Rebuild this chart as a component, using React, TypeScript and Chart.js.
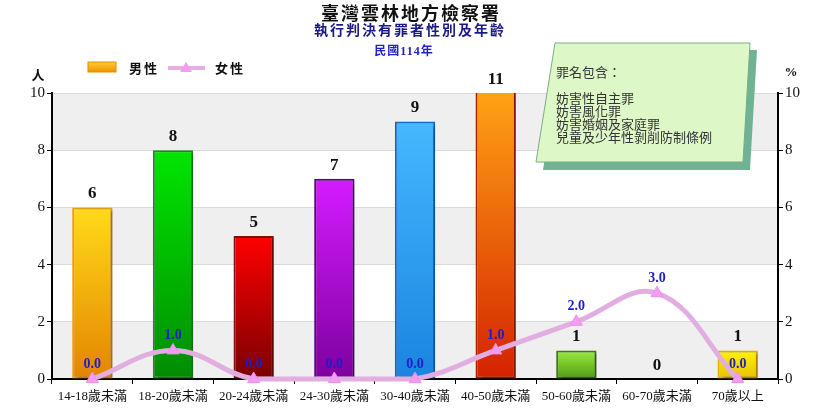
import { useEffect, useRef } from "react";
import { Chart, registerables } from "chart.js";

Chart.register(...registerables);

const categories = [
  "14-18歲未滿", "18-20歲未滿", "20-24歲未滿", "24-30歲未滿", "30-40歲未滿",
  "40-50歲未滿", "50-60歲未滿", "60-70歲未滿", "70歲以上",
];
const maleCounts = [6, 8, 5, 7, 9, 11, 1, 0, 1];
const femalePct = [0, 1, 0, 0, 0, 1, 2, 3, 0];
const yTicks = [0, 2, 4, 6, 8, 10];

const title = "臺灣雲林地方檢察署";
const subtitle = "執行判決有罪者性別及年齡";
const yearLabel = "民國114年";
const noteLines = ["罪名包含：", "", "妨害性自主罪", "妨害風化罪", "妨害婚姻及家庭罪", "兒童及少年性剝削防制條例"];

// top colour, bottom colour, border per bar
const barColors = [
  ["#FFDA1A", "#E48400", "#E8A010"],
  ["#00E600", "#008C00", "#1E8A1E"],
  ["#FF0000", "#7A0000", "#7A1010"],
  ["#D41CFF", "#7E00A0", "#5E0080"],
  ["#45B8FF", "#1A84E0", "#1468C0"],
  ["#FFA214", "#D42200", "#A81E00"],
  ["#9CEA44", "#4E9C10", "#3E7A10"],
  ["#FFFFFF", "#FFFFFF", "#FFFFFF"],
  ["#FFF400", "#E8C000", "#E0B000"],
];

const SERIF = '"Liberation Serif", "Noto Sans CJK TC", serif';
const CJK = '"Noto Sans CJK TC", sans-serif';

const decorPlugin = {
  id: "decor",
  beforeDraw(chart: any) {
    const { ctx, chartArea, scales } = chart;
    const y = scales.y;
    ctx.save();
    ctx.fillStyle = "#EFEFEF";
    for (let v = 0; v <= 8; v += 4) {
      const top = y.getPixelForValue(v + 2);
      const bot = y.getPixelForValue(v);
      ctx.fillRect(chartArea.left, top, chartArea.right - chartArea.left, bot - top);
    }
    ctx.restore();
  },
  beforeDatasetDraw(chart: any, args: any) {
    if (args.index === 0) {
      const ctx = chart.ctx;
      ctx.save();
      ctx.shadowColor = "rgba(0,0,0,0.3)";
      ctx.shadowOffsetX = 3;
      ctx.shadowOffsetY = 2;
      ctx.shadowBlur = 3;
    }
  },
  afterDatasetDraw(chart: any, args: any) {
    if (args.index === 0) chart.ctx.restore();
  },
  afterDraw(chart: any) {
    const { ctx, chartArea } = chart;
    ctx.save();
    ctx.textAlign = "center";
    ctx.textBaseline = "middle";

    // titles
    ctx.fillStyle = "#111";
    ctx.font = `bold 18px ${CJK}`;
    (ctx as any).letterSpacing = "2px";
    ctx.fillText(title, 411, 13);
    ctx.fillStyle = "#1A1A80";
    ctx.font = `bold 14px ${CJK}`;
    (ctx as any).letterSpacing = "2px";
    ctx.fillText(subtitle, 410, 30);
    ctx.fillStyle = "#2222C0";
    ctx.font = `bold 12px ${SERIF}`;
    (ctx as any).letterSpacing = "1px";
    ctx.fillText(yearLabel, 404, 52);
    (ctx as any).letterSpacing = "0px";

    // axis titles
    ctx.fillStyle = "#111";
    ctx.font = `bold 13px ${CJK}`;
    ctx.fillText("人", 38, 75);
    ctx.font = `bold 13px ${SERIF}`;
    ctx.fillText("%", 791, 73);

    // legend
    const g = ctx.createLinearGradient(0, 62, 0, 72);
    g.addColorStop(0, "#FFD030");
    g.addColorStop(1, "#F09000");
    ctx.fillStyle = g;
    ctx.fillRect(88, 62, 28, 10);
    ctx.strokeStyle = "#E09000";
    ctx.lineWidth = 1;
    ctx.strokeRect(88, 62, 28, 10);
    ctx.fillStyle = "#111";
    ctx.font = `bold 13px ${CJK}`;
    (ctx as any).letterSpacing = "2px";
    ctx.textAlign = "left";
    ctx.fillText("男性", 129, 68);
    ctx.fillText("女性", 215, 68);
    (ctx as any).letterSpacing = "0px";
    ctx.strokeStyle = "#E4B0E4";
    ctx.lineWidth = 4;
    ctx.beginPath();
    ctx.moveTo(168, 68);
    ctx.lineTo(205, 68);
    ctx.stroke();
    ctx.fillStyle = "#F29CF2";
    ctx.beginPath();
    ctx.moveTo(186, 62);
    ctx.lineTo(192, 72);
    ctx.lineTo(180, 72);
    ctx.closePath();
    ctx.fill();

    // note box
    ctx.fillStyle = "#6FB394";
    ctx.beginPath();
    ctx.moveTo(562, 50);
    ctx.lineTo(757, 50);
    ctx.lineTo(750, 170);
    ctx.lineTo(543, 170);
    ctx.closePath();
    ctx.fill();
    ctx.fillStyle = "#DDF7C6";
    ctx.strokeStyle = "#7AAE86";
    ctx.lineWidth = 1;
    ctx.beginPath();
    ctx.moveTo(555, 43);
    ctx.lineTo(750, 43);
    ctx.lineTo(743, 162);
    ctx.lineTo(536, 162);
    ctx.closePath();
    ctx.fill();
    ctx.stroke();
    ctx.fillStyle = "#333";
    ctx.font = `13px ${CJK}`;
    ctx.textAlign = "left";
    const noteY = [72, 85, 98, 111, 124, 137];
    noteLines.forEach((t, i) => {
      if (t) ctx.fillText(t, 556, noteY[i]);
    });

    // bar labels
    const bars = chart.getDatasetMeta(0).data;
    ctx.textAlign = "center";
    ctx.textBaseline = "bottom";
    ctx.fillStyle = "#111";
    ctx.font = `bold 17px ${SERIF}`;
    bars.forEach((b: any, i: number) => {
      const top = Math.max(b.y, chartArea.top);
      ctx.fillText(String(maleCounts[i]), b.x, top - 5);
    });

    // line labels
    const pts = chart.getDatasetMeta(1).data;
    ctx.fillStyle = "#1E1EC4";
    ctx.font = `bold 14px ${SERIF}`;
    pts.forEach((p: any, i: number) => {
      ctx.fillText(femalePct[i].toFixed(1), p.x, p.y - 8);
    });
    ctx.restore();
  },
};

export default function App() {
  const canvasRef = useRef<HTMLCanvasElement>(null);
  const chartRef = useRef<Chart | null>(null);

  useEffect(() => {
    document.body.style.margin = "0";
    if (!canvasRef.current) return;
    if (chartRef.current) chartRef.current.destroy();
    const ctx = canvasRef.current.getContext("2d");
    if (!ctx) return;

    const barBg = (c: any) => {
      const chart = c.chart;
      const i = c.dataIndex;
      const cols = barColors[i] || barColors[0];
      const y = chart.scales?.y;
      if (!y || !chart.chartArea) return cols[0];
      const top = y.getPixelForValue(Math.min(maleCounts[i], 10));
      const bot = y.getPixelForValue(0);
      if (!isFinite(top) || bot - top < 1) return cols[0];
      const g = chart.ctx.createLinearGradient(0, top, 0, bot);
      g.addColorStop(0, cols[0]);
      g.addColorStop(1, cols[1]);
      return g;
    };

    chartRef.current = new Chart(ctx, {
      type: "bar",
      data: {
        labels: categories,
        datasets: [
          {
            type: "bar",
            label: "男性",
            data: maleCounts,
            backgroundColor: barBg,
            borderColor: barColors.map((c) => c[2]),
            borderWidth: 2,
            borderSkipped: false,
            barPercentage: 0.5,
            categoryPercentage: 1,
            yAxisID: "y",
            order: 2,
          },
          {
            type: "line",
            label: "女性",
            data: femalePct,
            borderColor: "#E2AEE2",
            borderWidth: 5,
            tension: 0.4,
            pointStyle: "triangle",
            pointRadius: 7,
            pointBackgroundColor: "#F29CF2",
            pointBorderColor: "#EE90EE",
            pointBorderWidth: 1,
            yAxisID: "y2",
            clip: 6,
            order: 0,
          },
          {
            type: "line",
            label: "女性-inner",
            data: femalePct,
            borderColor: "#F9DDF9",
            borderWidth: 2.5,
            tension: 0.4,
            pointRadius: 0,
            yAxisID: "y2",
            clip: 6,
            order: 1,
          },
        ],
      },
      options: {
        responsive: false,
        animation: false,
        layout: { padding: { top: 93, left: 0, right: 0, bottom: 0 } },
        plugins: {
          legend: { display: false },
          title: { display: false },
          tooltip: { enabled: false },
        },
        scales: {
          x: {
            offset: true,
            grid: { offset: true, drawOnChartArea: false, tickColor: "#000", tickLength: 5 },
            border: { color: "#000", width: 2 },
            ticks: {
              color: "#111",
              font: { family: SERIF, size: 13 },
              padding: 5,
              maxRotation: 0,
              autoSkip: false,
            },
            afterFit: (s: any) => {
              s.height = 30;
            },
          },
          y: {
            position: "left",
            min: 0,
            max: 10,
            afterBuildTicks: (s: any) => {
              s.ticks = yTicks.map((v) => ({ value: v }));
            },
            grid: { color: "#DADADA", tickColor: "#000", tickLength: 5 },
            border: { color: "#000", width: 2 },
            ticks: { color: "#111", font: { family: SERIF, size: 15 }, padding: 2 },
            afterFit: (s: any) => {
              s.width = 52;
            },
          },
          y2: {
            position: "right",
            min: 0,
            max: 10,
            afterBuildTicks: (s: any) => {
              s.ticks = yTicks.map((v) => ({ value: v }));
            },
            grid: { drawOnChartArea: false, tickColor: "#000", tickLength: 5 },
            border: { color: "#000", width: 2 },
            ticks: { color: "#111", font: { family: SERIF, size: 15 }, padding: 2 },
            afterFit: (s: any) => {
              s.width = 40;
            },
          },
        },
      },
      plugins: [decorPlugin],
    } as any);

    return () => {
      if (chartRef.current) {
        chartRef.current.destroy();
        chartRef.current = null;
      }
    };
  }, []);

  return (
    <div style={{ position: "absolute", left: 0, top: 0, width: 818, height: 409, background: "#fff" }}>
      <canvas ref={canvasRef} width={818} height={409} />
    </div>
  );
}
